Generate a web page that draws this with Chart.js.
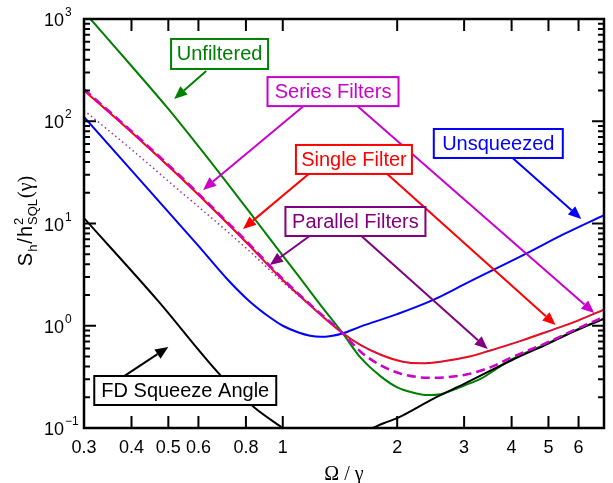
<!DOCTYPE html>
<html>
<head>
<meta charset="utf-8">
<script src="https://cdn.jsdelivr.net/npm/chart.js@4.4.1/dist/chart.umd.min.js"></script>
<style>
  html, body { margin: 0; padding: 0; background: #fff; }
  #wrap { width: 613px; height: 483px; }
</style>
</head>
<body>
<div id="wrap"><canvas id="chart"></canvas></div>
<script>
// Axis ticks
const xTicks = [0.3, 0.4, 0.5, 0.6, 0.8, 1, 2, 3, 4, 5, 6];
const xTickLabels = ["0.3", "0.4", "0.5", "0.6", "0.8", "1", "2", "3", "4", "5", "6"];
const yDecades = [0.1, 1, 10, 100, 1000];
const yExponents = ["\u22121", "0", "1", "2", "3"];

// Unfiltered (green)
const unfilteredX = [0.312, 0.4, 0.5, 0.688, 0.85, 1.0, 1.128, 1.25, 1.436, 1.6, 1.81, 2.0, 2.2, 2.4, 2.6, 2.8, 3.0, 3.3, 4, 5, 6, 7];
const unfilteredY = [1000, 347, 132, 29.8, 10.7, 4.85, 2.72, 1.64, 0.85, 0.49, 0.32, 0.25, 0.222, 0.21, 0.214, 0.235, 0.26, 0.30, 0.47, 0.68, 0.93, 1.17];

// Series filters (magenta dashed)
const seriesX = [0.3, 0.4, 0.54, 0.6, 0.8, 1.0, 1.2, 1.436, 1.6, 1.81, 2.07, 2.44, 3.0, 3.5, 4.0, 4.94, 6, 7];
const seriesY = [206, 80, 28.7, 19.6, 6.8, 2.87, 1.53, 0.85, 0.56, 0.41, 0.335, 0.31, 0.33, 0.39, 0.49, 0.68, 0.95, 1.22];

// Single filter (red)
const singleX = [0.3, 0.4, 0.54, 0.6, 0.8, 1.0, 1.2, 1.436, 1.6, 1.81, 2.07, 2.3, 2.6, 3.1, 3.5, 4.27, 4.94, 6, 7];
const singleY = [200, 78, 27.9, 19.1, 6.6, 2.8, 1.5, 0.85, 0.65, 0.52, 0.445, 0.43, 0.445, 0.5, 0.57, 0.72, 0.87, 1.13, 1.44];

// Parallel filters (purple dotted)
const parallelX = [0.3, 0.4, 0.54, 0.6, 0.8, 1.0, 1.2, 1.436, 1.6, 1.81, 2.07, 2.3, 2.6, 3.1, 3.5, 4.27, 4.94, 6, 7];
const parallelY = [128, 53, 20.3, 14.6, 5.77, 2.68, 1.5, 0.85, 0.65, 0.52, 0.445, 0.43, 0.445, 0.5, 0.57, 0.72, 0.87, 1.13, 1.44];

// Unsqueezed (blue)
const unsqX = [0.3, 0.6, 0.718, 0.81, 0.93, 1.0, 1.1, 1.18, 1.257, 1.34, 1.436, 1.6, 2.0, 2.48, 3.1, 4.38, 5.5, 7];
const unsqY = [110, 6.05, 2.8, 1.79, 1.19, 1.0, 0.86, 0.8, 0.78, 0.795, 0.84, 0.98, 1.3, 1.78, 2.7, 5.1, 7.9, 12.1];

// FD squeeze angle (black), drops below the axis between the two branches
const fdX = [0.3, 0.468, 0.692, 0.845, 1.0, 1.3, 1.72, 1.85, 2.0, 2.5, 3.0, 4.0, 5.0, 6.0, 7.0];
const fdY = [11.3, 1.78, 0.316, 0.157, 0.1, null, 0.1, 0.112, 0.125, 0.195, 0.27, 0.46, 0.67, 0.92, 1.17];

// Labels with arrows, in data coordinates
const labels = [
  { text: "Unfiltered", color: "#008000", x: 0.682, y: 455, w: 97, h: 30,
    arrows: [[0.629, 310, 0.518, 165]] },
  { text: "Series Filters", color: "#cc00cc", x: 1.356, y: 195, w: 131, h: 29,
    arrows: [[1.135, 141, 0.617, 21.3], [1.571, 141, 6.6, 1.33]] },
  { text: "Single Filter", color: "#ff0000", x: 1.539, y: 42.3, w: 116, h: 29,
    arrows: [[1.17, 30.5, 0.786, 8.84], [1.883, 30.5, 5.22, 1.017]] },
  { text: "Parallel Filters", color: "#800080", x: 1.553, y: 10.46, w: 140, h: 29,
    arrows: [[1.177, 7.55, 0.925, 3.93], [1.61, 7.55, 3.46, 0.593]] },
  { text: "Unsqueezed", color: "#0000ff", x: 3.69, y: 60.6, w: 129, h: 29,
    arrows: [[4.025, 43.7, 6.1, 11.07]] },
  { text: "FD Squeeze Angle", color: "#000000", x: 0.554, y: 0.2327, w: 182, h: 29,
    arrows: [[0.3835, 0.323, 0.5, 0.62]] },
];

const sans = "'Liberation Sans', Arial, sans-serif";
const serif = "'Liberation Serif', 'Times New Roman', serif";

function pairs(xs, ys) {
  return xs.map((x, i) => ({ x: x, y: ys[i] }));
}

function line(label, xs, ys, color, width, dash, order) {
  return {
    label: label,
    data: pairs(xs, ys),
    borderColor: color,
    borderWidth: width,
    borderDash: dash,
    pointRadius: 0,
    fill: false,
    cubicInterpolationMode: "monotone",
    spanGaps: false,
    order: order,
  };
}

function drawArrow(ctx, x1, y1, x2, y2, color) {
  const ang = Math.atan2(y2 - y1, x2 - x1);
  const len = 13, half = 5.5;
  const bx = x2 - len * Math.cos(ang), by = y2 - len * Math.sin(ang);
  ctx.strokeStyle = color;
  ctx.fillStyle = color;
  ctx.lineWidth = 2;
  ctx.setLineDash([]);
  ctx.beginPath();
  ctx.moveTo(x1, y1);
  ctx.lineTo(bx, by);
  ctx.stroke();
  ctx.beginPath();
  ctx.moveTo(x2, y2);
  ctx.lineTo(bx + half * Math.sin(ang), by - half * Math.cos(ang));
  ctx.lineTo(bx - half * Math.sin(ang), by + half * Math.cos(ang));
  ctx.closePath();
  ctx.fill();
}

const decorations = {
  id: "decorations",
  afterDatasetsDraw(chart) {
    const ctx = chart.ctx;
    const xs = chart.scales.x, ys = chart.scales.y;
    const area = chart.chartArea;
    ctx.save();

    // labels and arrows
    labels.forEach((lb) => {
      lb.arrows.forEach((a) => {
        drawArrow(ctx, xs.getPixelForValue(a[0]), ys.getPixelForValue(a[1]),
          xs.getPixelForValue(a[2]), ys.getPixelForValue(a[3]), lb.color);
      });
    });
    labels.forEach((lb) => {
      const cx = xs.getPixelForValue(lb.x), cy = ys.getPixelForValue(lb.y);
      ctx.fillStyle = "#fff";
      ctx.fillRect(cx - lb.w / 2, cy - lb.h / 2, lb.w, lb.h);
      ctx.strokeStyle = lb.color;
      ctx.lineWidth = 2;
      ctx.strokeRect(cx - lb.w / 2, cy - lb.h / 2, lb.w, lb.h);
      ctx.fillStyle = lb.color;
      ctx.font = "20px " + sans;
      ctx.textAlign = "center";
      ctx.textBaseline = "middle";
      ctx.fillText(lb.text, cx, cy + 1);
    });

    // frame
    ctx.strokeStyle = "#000";
    ctx.lineWidth = 2.5;
    ctx.strokeRect(area.left, area.top, area.right - area.left, area.bottom - area.top);

    // ticks, pointing inward
    ctx.lineWidth = 2;
    ctx.beginPath();
    xTicks.forEach((v) => {
      const px = xs.getPixelForValue(v);
      ctx.moveTo(px, area.bottom); ctx.lineTo(px, area.bottom - 12);
      ctx.moveTo(px, area.top); ctx.lineTo(px, area.top + 12);
    });
    yDecades.forEach((d, i) => {
      const py = ys.getPixelForValue(d);
      ctx.moveTo(area.left, py); ctx.lineTo(area.left + 12, py);
      ctx.moveTo(area.right, py); ctx.lineTo(area.right - 12, py);
      if (i < yDecades.length - 1) {
        for (let m = 2; m <= 9; m++) {
          const pm = ys.getPixelForValue(d * m);
          ctx.moveTo(area.left, pm); ctx.lineTo(area.left + 6, pm);
          ctx.moveTo(area.right, pm); ctx.lineTo(area.right - 6, pm);
        }
      }
    });
    ctx.stroke();

    // y tick labels 10^n
    ctx.fillStyle = "#000";
    ctx.textBaseline = "alphabetic";
    yDecades.forEach((d, i) => {
      const py = ys.getPixelForValue(d);
      ctx.font = "18px " + sans;
      ctx.textAlign = "right";
      ctx.fillText("10", 64, py + 7);
      ctx.font = "12px " + sans;
      ctx.textAlign = "left";
      ctx.fillText(yExponents[i], 65, py - 3);
    });

    // y axis title: S_h / h^2_SQL (gamma), rotated
    const parts = [
      { t: "S", f: "20px " + sans, dy: 0 },
      { t: "h", f: "13px " + sans, dy: 5 },
      { t: "/", f: "20px " + sans, dy: 0 },
      { t: "h", f: "20px " + sans, dy: 0 },
      { t: "SQL", f: "13px " + sans, dy: 5, sup: "2" },
      { t: "(\u03b3)", f: "20px " + serif, dy: 0 },
    ];
    let total = 0;
    parts.forEach((p) => {
      ctx.font = p.f;
      p.w = ctx.measureText(p.t).width;
      total += p.w + 1;
    });
    const midY = (area.top + area.bottom) / 2 - 3;
    ctx.translate(32, midY + total / 2);
    ctx.rotate(-Math.PI / 2);
    ctx.textAlign = "left";
    let pos = 0;
    parts.forEach((p) => {
      ctx.font = p.f;
      ctx.fillText(p.t, pos, p.dy);
      if (p.sup) ctx.fillText(p.sup, pos, -9);
      pos += p.w + 1;
    });
    ctx.restore();
  },
};

new Chart(document.getElementById("chart"), {
  type: "line",
  data: {
    datasets: [
      line("Parallel Filters", parallelX, parallelY, "#993399", 1.5, [1.5, 3], 1),
      line("Series Filters", seriesX, seriesY, "#cc00cc", 2.5, [9, 5], 2),
      line("Single Filter", singleX, singleY, "#ff0000", 2, [], 3),
      line("FD Squeeze Angle", fdX, fdY, "#000000", 2, [], 4),
      line("Unfiltered", unfilteredX, unfilteredY, "#008000", 2, [], 5),
      line("Unsqueezed", unsqX, unsqY, "#0000ff", 2, [], 6),
    ],
  },
  options: {
    responsive: true,
    maintainAspectRatio: false,
    animation: false,
    layout: { padding: { left: 0, right: 9, top: 19, bottom: 0 } },
    plugins: {
      legend: { display: false },
      tooltip: { enabled: false },
    },
    scales: {
      x: {
        type: "logarithmic",
        min: 0.3,
        max: 7,
        grid: { display: false, drawTicks: false },
        border: { display: false },
        afterBuildTicks: (axis) => {
          axis.ticks = xTicks.map((v) => ({ value: v }));
        },
        afterFit: (axis) => { axis.height = 55; },
        ticks: {
          autoSkip: false,
          maxRotation: 0,
          padding: 9,
          color: "#000",
          font: { family: sans, size: 18 },
          callback: (value, index) => xTickLabels[index],
        },
        title: {
          display: true,
          text: "\u03a9 / \u03b3",
          color: "#000",
          font: { family: serif, size: 20 },
          padding: { top: 0, bottom: -4 },
        },
      },
      y: {
        type: "logarithmic",
        min: 0.1,
        max: 1000,
        grid: { display: false, drawTicks: false },
        border: { display: false },
        ticks: { display: false },
        afterFit: (axis) => { axis.width = 84; },
      },
    },
  },
  plugins: [decorations],
});
</script>
</body>
</html>
